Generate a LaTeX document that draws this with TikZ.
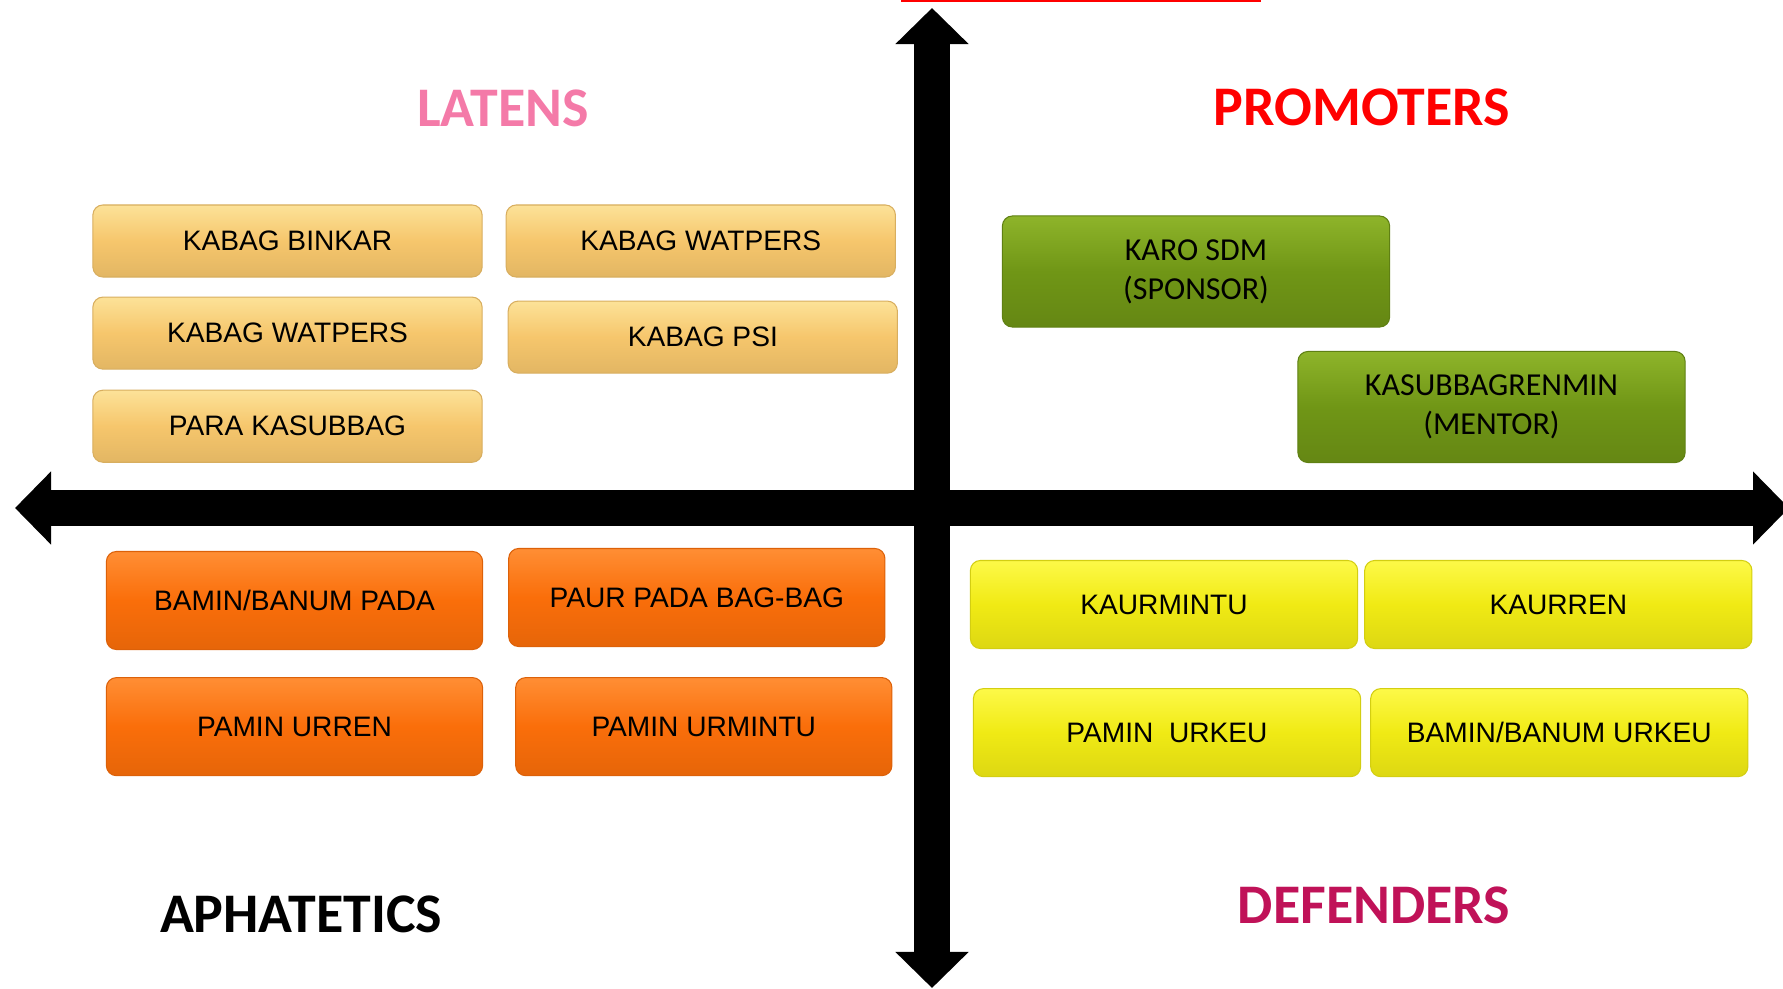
\documentclass[tikz,border=0pt]{standalone}
\usepackage{fontspec}
\setmainfont{Liberation Sans}
\newfontfamily\carlito{Carlito}
\usetikzlibrary{arrows.meta, positioning}

\definecolor{latbase}{RGB}{246,198,108}
\definecolor{latlight}{RGB}{252,226,152}
\definecolor{grnbase}{RGB}{112,150,22}
\definecolor{grnlight}{RGB}{142,180,42}
\definecolor{orgbase}{RGB}{250,110,10}
\definecolor{orglight}{RGB}{255,142,52}
\definecolor{ylwbase}{RGB}{240,234,20}
\definecolor{ylwlight}{RGB}{253,249,72}
\definecolor{latpink}{RGB}{244,122,168}
\definecolor{defcrimson}{RGB}{192,18,88}

\tikzset{
  card/.style={rectangle, rounded corners=1mm, align=center, inner sep=0pt,
               line width=0.3pt, font=\fontsize{8}{9.6}\selectfont},
  latcard/.style={card, minimum width=3.89cm, minimum height=0.72cm,
                  top color=latlight, bottom color=latbase!92!black,
                  middle color=latbase, draw=latbase!88!black},
  grncard/.style={card, minimum width=3.87cm, minimum height=1.11cm,
                  top color=grnlight, bottom color=grnbase!90!black,
                  middle color=grnbase, draw=grnbase!85!black,
                  font=\carlito\fontsize{9.1}{11.1}\selectfont},
  orgcard/.style={card, minimum width=3.76cm, minimum height=0.98cm,
                  top color=orglight, bottom color=orgbase!92!black,
                  middle color=orgbase, draw=orgbase!88!black},
  ylwcard/.style={card, minimum width=3.87cm, minimum height=0.88cm,
                  top color=ylwlight, bottom color=ylwbase!92!black,
                  middle color=ylwbase, draw=ylwbase!88!black},
  quad/.style={inner sep=0pt, font=\carlito\bfseries\fontsize{15.9}{18}\selectfont},
  axis/.style={line width=3.6mm,
               {Triangle[width=7.1mm,length=3.6mm]}-{Triangle[width=7.1mm,length=3.6mm]}},
}

\begin{document}
\begin{tikzpicture}[x=0.01cm, y=-0.01cm]
  \useasboundingbox (0,0) rectangle (1783,988);

  % axes
  \coordinate (north) at (932,8);
  \coordinate (south) at (932,988);
  \coordinate (west)  at (15,508);
  \coordinate (east)  at (1789,508);
  \coordinate (mark1) at (901,1);
  \coordinate (mark2) at (1261,1);
  \draw[red, line width=0.2mm] (mark1) -- (mark2);
  \draw[axis] (south) -- (north);
  \draw[axis] (west) -- (east);

  % quadrant titles
  \node[quad, text=latpink]    (latens) at (503,108)  {LATENS};
  \node[quad, text=red]        (promo)  at (1362,107) {PROMOTERS};
  \node[quad, text=black]      (apha)   at (301,914)  {APHATETICS};
  \node[quad, text=defcrimson] (defend) at (1374,905) {DEFENDERS};

  % latens
  \node[latcard] (binkar) at (287.5,241) {KABAG BINKAR};
  \node[latcard, below=0.19cm of binkar] (watpl) {KABAG WATPERS};
  \node[latcard, below=0.20cm of watpl]  (kasub) {PARA KASUBBAG};
  \node[latcard, right=0.23cm of binkar] (watpr) {KABAG WATPERS};
  \node[latcard, below=0.23cm of watpr, xshift=0.02cm] (psi) {KABAG PSI};

  % promoters
  \node[grncard] (karo)  at (1196,271.5) {KARO SDM\\(SPONSOR)};
  \node[grncard] (renmin) at (1491.5,407) {KASUBBAGRENMIN\\(MENTOR)};

  % aphatetics
  \node[orgcard] (baminpada) at (294.5,600.5) {BAMIN/BANUM PADA};
  \node[orgcard, right=0.25cm of baminpada, yshift=0.03cm] (paur) {PAUR PADA BAG-BAG};
  \node[orgcard, below=0.27cm of baminpada] (urren) {PAMIN URREN};
  \node[orgcard, right=0.32cm of urren]    (urmintu) {PAMIN URMINTU};

  % defenders
  \node[ylwcard] (kaurmintu) at (1164,604.5) {KAURMINTU};
  \node[ylwcard, right=0.06cm of kaurmintu] (kaurren) {KAURREN};
  \node[ylwcard, below=0.39cm of kaurmintu, xshift=0.03cm] (urkeu) {PAMIN\ \ URKEU};
  \node[ylwcard, right=0.09cm of urkeu, minimum width=3.77cm] (baminurkeu) {BAMIN/BANUM URKEU};
\end{tikzpicture}
\end{document}
